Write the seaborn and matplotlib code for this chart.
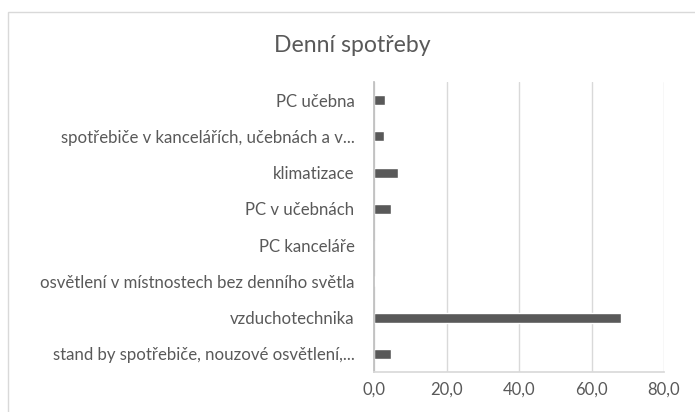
import matplotlib
matplotlib.use("Agg")
import matplotlib.pyplot as plt
import seaborn as sns
import pandas as pd
from matplotlib.patches import Rectangle
from matplotlib.ticker import FuncFormatter

categories = [
    "PC učebna",
    "spotřebiče v kancelářích, učebnách a v...",
    "klimatizace",
    "PC v učebnách",
    "PC kanceláře",
    "osvětlení v místnostech bez denního světla",
    "vzduchotechnika",
    "stand by spotřebiče, nouzové osvětlení,...",
]
values = [2.9, 2.8, 6.6, 4.7, 0.0, 0.4, 68.0, 4.7]
x_ticks = [0, 20, 40, 60, 80]

sns.set_theme(style="white")
plt.rcParams["font.family"] = ["Lato", "DejaVu Sans"]

df = pd.DataFrame({"cat": categories, "val": values})

fig = plt.figure(figsize=(6.95, 4.12), dpi=100)
ax = fig.add_axes([374/695, 1-372/412, 290/695, 290/412])

sns.barplot(data=df, x="val", y="cat", orient="h", color="#595959",
            width=0.28, ax=ax, saturation=1)

ax.set_xlim(0, 80)
ax.set_xticks(x_ticks)
ax.xaxis.set_major_formatter(FuncFormatter(lambda v, p: f"{v:.1f}".replace(".", ",")))
ax.grid(axis="x", color="#d9d9d9", linewidth=1)
ax.set_axisbelow(True)
ax.set_xlabel("")
ax.set_ylabel("")
for s in ["top", "right"]:
    ax.spines[s].set_visible(False)
ax.spines["bottom"].set_color("#d9d9d9")
ax.spines["left"].set_color("#bfbfbf")
ax.tick_params(axis="y", length=0, pad=14, labelsize=12.1, labelcolor="#595959")
ax.tick_params(axis="x", length=0, pad=7, labelsize=12.0, labelcolor="#595959")

fig.text(352/695, 1-45/412, "Denní spotřeby", fontsize=16.6, color="#595959",
         ha="center", va="center")

fig.patches.append(Rectangle((8/695, -0.1), 1.1, 1.1 - 12/412,
                             transform=fig.transFigure, fill=False,
                             edgecolor="#d9d9d9", linewidth=1))

fig.savefig("out.png", dpi=100)
